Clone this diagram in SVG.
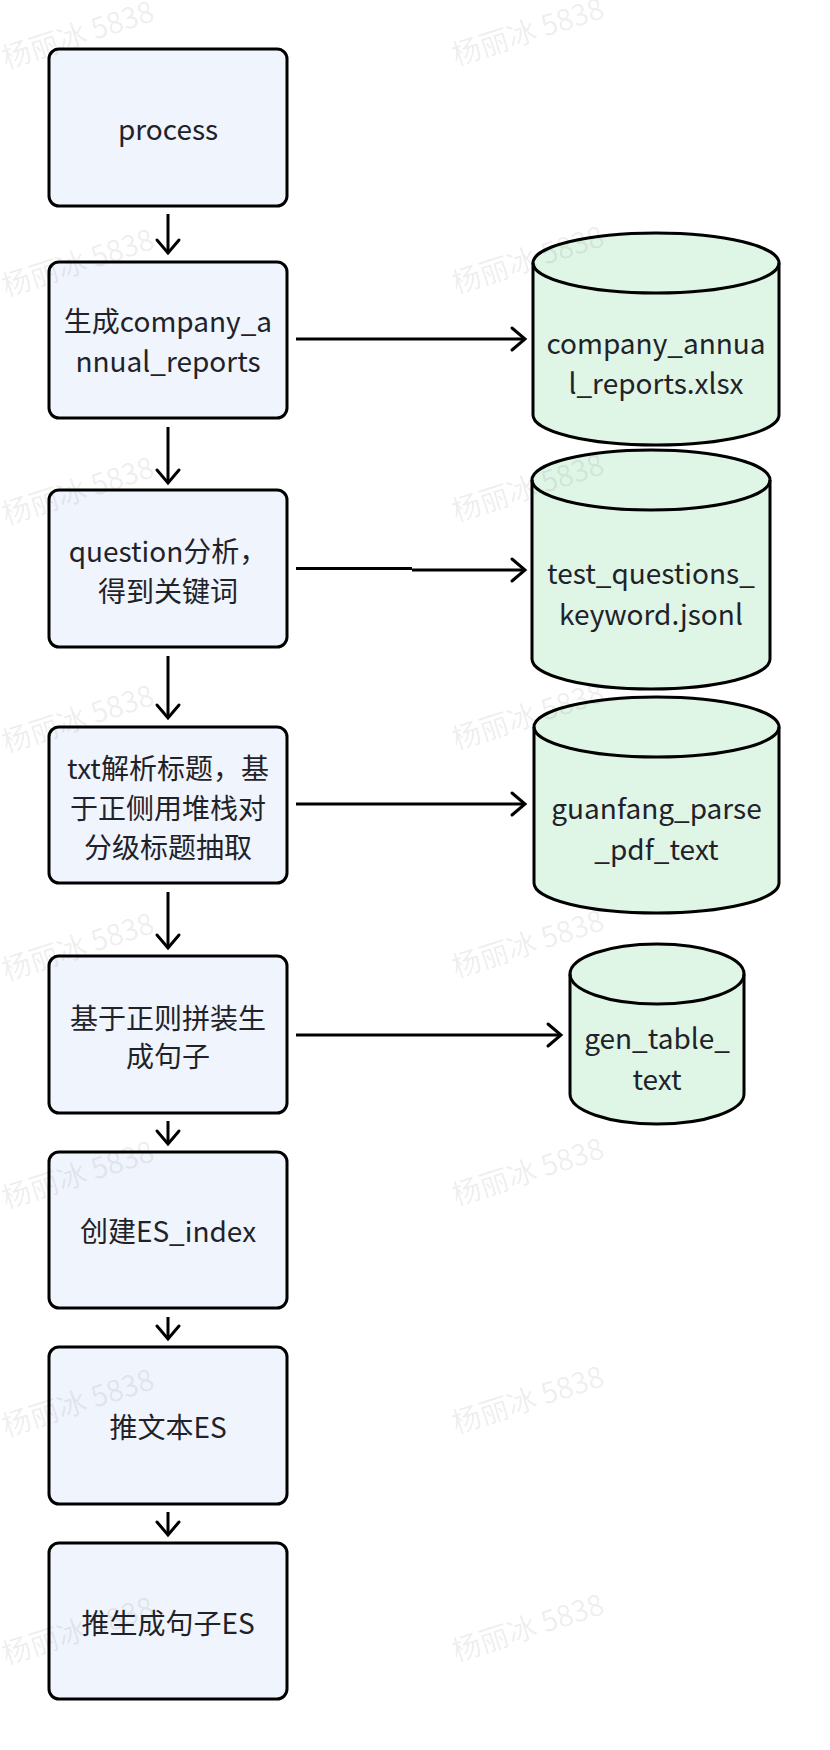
<svg xmlns="http://www.w3.org/2000/svg" width="830" height="1750" viewBox="0 0 830 1750">
<defs>
<style>
.box{fill:#eff4fd;stroke:#000;stroke-width:3}
.cyl{fill:#dff5e6;stroke:#000;stroke-width:3}
.t{font-family:"Noto Sans CJK SC","Noto Sans",sans-serif;font-size:28px;fill:#1f2329;text-anchor:middle}
.c{fill:none;stroke:#000;stroke-width:3}
.wm{font-family:"Noto Sans CJK SC","Noto Sans",sans-serif;font-size:29px;fill:#000;fill-opacity:0.08}
</style>
<marker id="ah" markerUnits="userSpaceOnUse" viewBox="-16 -14 20 28" refX="0" refY="0" markerWidth="20" markerHeight="28" orient="auto">
<path d="M-13,-11 L0,0 L-13,11" fill="none" stroke="#000" stroke-width="3" stroke-linecap="round" stroke-linejoin="miter"/>
</marker>
</defs>
<rect width="830" height="1750" fill="#fff"/>

<g id="n1"><rect class="box" x="49" y="49" width="238" height="157" rx="10"/><text class="t" x="168" y="140">process</text></g>
<g id="n2"><rect class="box" x="49" y="262" width="238" height="156" rx="10"/><text class="t" x="168" y="332">生成company_a</text><text class="t" x="168" y="372">nnual_reports</text></g>
<g id="n3"><rect class="box" x="49" y="490" width="238" height="157" rx="10"/><text class="t" x="168" y="562">question分析，</text><text class="t" x="168" y="602">得到关键词</text></g>
<g id="n4"><rect class="box" x="49" y="727" width="238" height="156" rx="10"/><text class="t" x="168" y="779">txt解析标题，基</text><text class="t" x="168" y="819">于正侧用堆栈对</text><text class="t" x="168" y="858">分级标题抽取</text></g>
<g id="n5"><rect class="box" x="49" y="956" width="238" height="157" rx="10"/><text class="t" x="168" y="1029">基于正则拼装生</text><text class="t" x="168" y="1067">成句子</text></g>
<g id="n6"><rect class="box" x="49" y="1152" width="238" height="156" rx="10"/><text class="t" x="168" y="1242">创建ES_index</text></g>
<g id="n7"><rect class="box" x="49" y="1347" width="238" height="157" rx="10"/><text class="t" x="168" y="1438">推文本ES</text></g>
<g id="n8"><rect class="box" x="49" y="1543" width="238" height="156" rx="10"/><text class="t" x="168" y="1634">推生成句子ES</text></g>

<g id="d1"><path class="cyl" d="M533,263 A123,30 0 0 1 779,263 V415 A123,30 0 0 1 533,415 Z"/><path class="c" d="M533,263 A123,30 0 0 0 779,263"/><text class="t" x="656" y="354">company_annua</text><text class="t" x="656" y="394">l_reports.xlsx</text></g>
<g id="d2"><path class="cyl" d="M532,480 A119,30 0 0 1 770,480 V659 A119,30 0 0 1 532,659 Z"/><path class="c" d="M532,480 A119,30 0 0 0 770,480"/><text class="t" x="651" y="584">test_questions_</text><text class="t" x="651" y="625">keyword.jsonl</text></g>
<g id="d3"><path class="cyl" d="M534,727 A122.5,30 0 0 1 779,727 V883 A122.5,30 0 0 1 534,883 Z"/><path class="c" d="M534,727 A122.5,30 0 0 0 779,727"/><text class="t" x="656.5" y="819">guanfang_parse</text><text class="t" x="656.5" y="860">_pdf_text</text></g>
<g id="d4"><path class="cyl" d="M570,974 A87,30 0 0 1 744,974 V1094 A87,30 0 0 1 570,1094 Z"/><path class="c" d="M570,974 A87,30 0 0 0 744,974"/><text class="t" x="657" y="1049">gen_table_</text><text class="t" x="657" y="1090">text</text></g>

<g id="connectors">
<path class="c" d="M168,214 V253" marker-end="url(#ah)"/>
<path class="c" d="M168,427 V483" marker-end="url(#ah)"/>
<path class="c" d="M168,656 V718" marker-end="url(#ah)"/>
<path class="c" d="M168,892 V948" marker-end="url(#ah)"/>
<path class="c" d="M168,1121 V1144" marker-end="url(#ah)"/>
<path class="c" d="M168,1317 V1339" marker-end="url(#ah)"/>
<path class="c" d="M168,1512 V1535" marker-end="url(#ah)"/>
<path class="c" d="M296,339 H525" marker-end="url(#ah)"/>
<path class="c" d="M296,568.5 H412 M412,570 H525" marker-end="url(#ah)"/>
<path class="c" d="M296,804 H525" marker-end="url(#ah)"/>
<path class="c" d="M296,1035 H561" marker-end="url(#ah)"/>
</g>

<g id="watermarks" class="wm">
<text transform="translate(6,69) rotate(-18)">杨丽冰 5838</text>
<text transform="translate(456,66) rotate(-18)">杨丽冰 5838</text>
<text transform="translate(6,297) rotate(-18)">杨丽冰 5838</text>
<text transform="translate(456,294) rotate(-18)">杨丽冰 5838</text>
<text transform="translate(6,525) rotate(-18)">杨丽冰 5838</text>
<text transform="translate(456,522) rotate(-18)">杨丽冰 5838</text>
<text transform="translate(6,753) rotate(-18)">杨丽冰 5838</text>
<text transform="translate(456,750) rotate(-18)">杨丽冰 5838</text>
<text transform="translate(6,981) rotate(-18)">杨丽冰 5838</text>
<text transform="translate(456,978) rotate(-18)">杨丽冰 5838</text>
<text transform="translate(6,1209) rotate(-18)">杨丽冰 5838</text>
<text transform="translate(456,1206) rotate(-18)">杨丽冰 5838</text>
<text transform="translate(6,1437) rotate(-18)">杨丽冰 5838</text>
<text transform="translate(456,1434) rotate(-18)">杨丽冰 5838</text>
<text transform="translate(6,1665) rotate(-18)">杨丽冰 5838</text>
<text transform="translate(456,1662) rotate(-18)">杨丽冰 5838</text>
</g>
</svg>
